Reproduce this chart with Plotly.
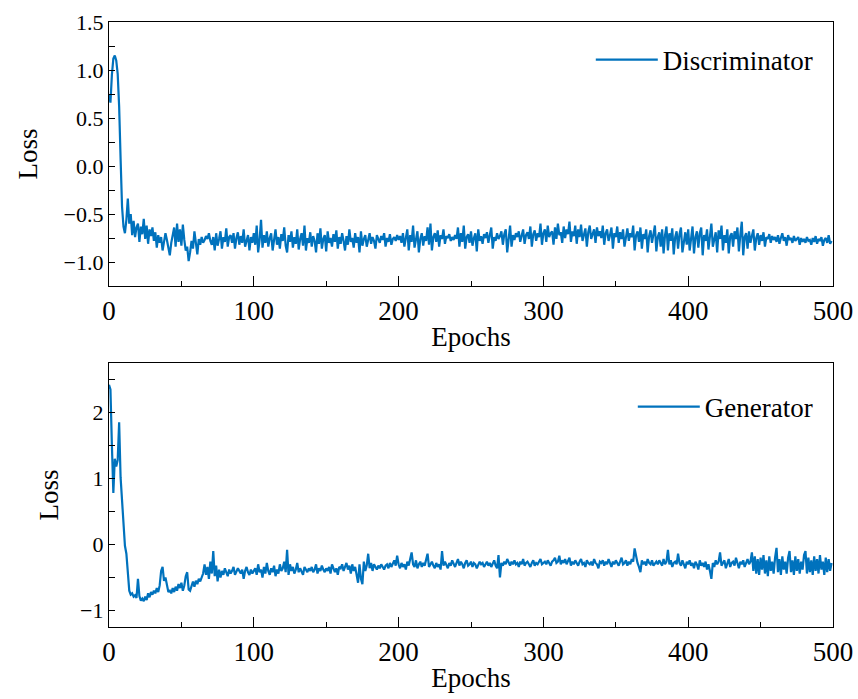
import plotly.graph_objects as go
from plotly.subplots import make_subplots

disc_loss = [
    0.74, 0.66, 0.95, 1.12, 1.15, 1.10, 0.96, 0.62, 0.08, -0.42, -0.63, -0.70, -0.56, -0.34, -0.60, -0.50, -0.72, -0.57, -0.74, -0.64,
    -0.60, -0.79, -0.63, -0.71, -0.55, -0.76, -0.62, -0.81, -0.66, -0.73, -0.64, -0.78, -0.69, -0.85, -0.72, -0.80, -0.74, -0.88, -0.79, -0.70,
    -0.77, -0.87, -0.93, -0.80, -0.72, -0.64, -0.84, -0.60, -0.79, -0.66, -0.83, -0.61, -0.77, -0.88, -0.84, -0.99, -0.90, -0.78, -0.86, -0.68,
    -0.80, -0.92, -0.76, -0.82, -0.74, -0.80, -0.77, -0.73, -0.76, -0.70, -0.78, -0.82, -0.74, -0.88, -0.70, -0.83, -0.76, -0.68, -0.86, -0.74,
    -0.79, -0.65, -0.84, -0.74, -0.72, -0.80, -0.70, -0.86, -0.75, -0.69, -0.82, -0.73, -0.80, -0.66, -0.84, -0.76, -0.72, -0.88, -0.74, -0.80,
    -0.70, -0.82, -0.62, -0.90, -0.77, -0.56, -0.85, -0.72, -0.80, -0.68, -0.84, -0.75, -0.70, -0.88, -0.76, -0.66, -0.82, -0.74, -0.86, -0.71,
    -0.78, -0.64, -0.83, -0.90, -0.72, -0.79, -0.68, -0.85, -0.74, -0.81, -0.66, -0.87, -0.76, -0.70, -0.83, -0.62, -0.88, -0.75, -0.80, -0.69,
    -0.84, -0.73, -0.78, -0.90, -0.70, -0.81, -0.65, -0.86, -0.76, -0.72, -0.89, -0.68, -0.80, -0.75, -0.84, -0.71, -0.79, -0.67, -0.86, -0.74,
    -0.81, -0.70, -0.78, -0.88, -0.73, -0.82, -0.66, -0.79, -0.75, -0.85, -0.70, -0.80, -0.74, -0.90, -0.68, -0.83, -0.76, -0.72, -0.84, -0.77,
    -0.70, -0.81, -0.74, -0.78, -0.86, -0.72, -0.76, -0.80, -0.73, -0.77, -0.70, -0.84, -0.75, -0.79, -0.71, -0.82, -0.76, -0.74, -0.78, -0.72,
    -0.77, -0.73, -0.80, -0.70, -0.84, -0.75, -0.66, -0.88, -0.72, -0.79, -0.62, -0.85, -0.74, -0.68, -0.90, -0.76, -0.70, -0.83, -0.73, -0.78,
    -0.64, -0.82, -0.60, -0.88, -0.74, -0.70, -0.79, -0.67, -0.84, -0.72, -0.76, -0.66, -0.81, -0.73, -0.75, -0.71, -0.78, -0.74, -0.77, -0.72,
    -0.76, -0.64, -0.84, -0.70, -0.79, -0.62, -0.86, -0.74, -0.71, -0.80, -0.68, -0.83, -0.75, -0.70, -0.89, -0.66, -0.78, -0.73, -0.81, -0.71,
    -0.75, -0.69, -0.80, -0.72, -0.64, -0.86, -0.74, -0.78, -0.70, -0.76, -0.73, -0.68, -0.82, -0.71, -0.66, -0.90, -0.75, -0.62, -0.84, -0.72,
    -0.77, -0.70, -0.74, -0.68, -0.79, -0.73, -0.66, -0.81, -0.72, -0.69, -0.76, -0.63, -0.84, -0.71, -0.67, -0.78, -0.70, -0.74, -0.60, -0.82,
    -0.70, -0.66, -0.79, -0.62, -0.74, -0.70, -0.68, -0.82, -0.64, -0.76, -0.60, -0.72, -0.69, -0.80, -0.63, -0.75, -0.66, -0.71, -0.58, -0.79,
    -0.68, -0.73, -0.62, -0.81, -0.66, -0.74, -0.61, -0.78, -0.70, -0.65, -0.84, -0.69, -0.62, -0.76, -0.71, -0.66, -0.80, -0.64, -0.73, -0.68,
    -0.75, -0.62, -0.82, -0.70, -0.66, -0.78, -0.72, -0.64, -0.86, -0.70, -0.74, -0.63, -0.80, -0.69, -0.76, -0.66, -0.84, -0.72, -0.65, -0.78,
    -0.70, -0.74, -0.62, -0.88, -0.72, -0.68, -0.79, -0.64, -0.86, -0.71, -0.76, -0.66, -0.90, -0.73, -0.67, -0.80, -0.70, -0.62, -0.89, -0.74,
    -0.69, -0.84, -0.66, -0.91, -0.72, -0.63, -0.88, -0.70, -0.78, -0.65, -0.92, -0.74, -0.68, -0.86, -0.71, -0.64, -0.90, -0.76, -0.69, -0.82,
    -0.66, -0.88, -0.72, -0.63, -0.91, -0.74, -0.68, -0.85, -0.70, -0.64, -0.93, -0.72, -0.78, -0.66, -0.87, -0.71, -0.60, -0.84, -0.74, -0.69,
    -0.90, -0.67, -0.76, -0.62, -0.88, -0.72, -0.80, -0.66, -0.91, -0.73, -0.70, -0.84, -0.68, -0.76, -0.64, -0.89, -0.72, -0.58, -0.93, -0.74,
    -0.70, -0.86, -0.68, -0.80, -0.73, -0.66, -0.88, -0.75, -0.70, -0.82, -0.72, -0.78, -0.69, -0.84, -0.74, -0.76, -0.71, -0.80, -0.73, -0.77,
    -0.74, -0.79, -0.72, -0.81, -0.75, -0.70, -0.78, -0.74, -0.83, -0.72, -0.77, -0.75, -0.80, -0.73, -0.78, -0.76, -0.74, -0.82, -0.75, -0.79,
    -0.76, -0.80, -0.74, -0.78, -0.77, -0.82, -0.75, -0.79, -0.73, -0.81, -0.76, -0.78, -0.74, -0.83, -0.77, -0.75, -0.80, -0.72, -0.81, -0.78,
]

gen_loss = [
    2.42, 2.35, 1.50, 0.78, 1.30, 1.18, 1.28, 1.85, 1.02, 0.70, 0.35, -0.02, -0.14, -0.40, -0.70, -0.76, -0.74, -0.79, -0.77, -0.81,
    -0.52, -0.78, -0.85, -0.82, -0.86, -0.79, -0.84, -0.74, -0.80, -0.72, -0.76, -0.70, -0.74, -0.66, -0.72, -0.62, -0.40, -0.34, -0.55, -0.50,
    -0.62, -0.72, -0.70, -0.74, -0.66, -0.72, -0.64, -0.70, -0.60, -0.66, -0.58, -0.70, -0.62, -0.48, -0.42, -0.68, -0.70, -0.62, -0.56, -0.64,
    -0.55, -0.60, -0.52, -0.56, -0.50, -0.44, -0.30, -0.46, -0.34, -0.52, -0.26, -0.44, -0.10, -0.48, -0.32, -0.56, -0.38, -0.50, -0.40, -0.46,
    -0.36, -0.42, -0.48, -0.38, -0.44, -0.40, -0.34, -0.46, -0.42, -0.36, -0.40, -0.44, -0.38, -0.52, -0.40, -0.34, -0.42, -0.46, -0.38, -0.44,
    -0.40, -0.36, -0.46, -0.30, -0.42, -0.38, -0.50, -0.34, -0.44, -0.28, -0.40, -0.46, -0.36, -0.42, -0.32, -0.48, -0.38, -0.44, -0.30, -0.40,
    -0.36, -0.26, -0.42, -0.08, -0.46, -0.30, -0.40, -0.34, -0.44, -0.38, -0.28, -0.42, -0.36, -0.40, -0.46, -0.34, -0.38, -0.42, -0.36, -0.40,
    -0.34, -0.42, -0.38, -0.30, -0.44, -0.36, -0.40, -0.32, -0.38, -0.42, -0.36, -0.40, -0.34, -0.44, -0.30, -0.38, -0.42, -0.36, -0.46, -0.34,
    -0.36, -0.30, -0.40, -0.34, -0.28, -0.38, -0.32, -0.44, -0.30, -0.40, -0.34, -0.46, -0.58, -0.30, -0.52, -0.60, -0.26, -0.40, -0.32, -0.14,
    -0.36, -0.28, -0.40, -0.30, -0.34, -0.38, -0.32, -0.36, -0.30, -0.34, -0.38, -0.32, -0.30, -0.36, -0.28, -0.34, -0.30, -0.24, -0.32, -0.17,
    -0.30, -0.36, -0.28, -0.34, -0.30, -0.38, -0.26, -0.32, -0.22, -0.12, -0.30, -0.34, -0.24, -0.36, -0.30, -0.26, -0.34, -0.28, -0.32, -0.22,
    -0.14, -0.34, -0.30, -0.26, -0.32, -0.36, -0.28, -0.34, -0.30, -0.38, -0.10, -0.32, -0.26, -0.30, -0.36, -0.28, -0.32, -0.24, -0.30, -0.34,
    -0.28, -0.22, -0.32, -0.26, -0.30, -0.36, -0.28, -0.24, -0.32, -0.30, -0.26, -0.34, -0.28, -0.30, -0.36, -0.32, -0.26, -0.30, -0.28, -0.34,
    -0.30, -0.26, -0.32, -0.28, -0.34, -0.30, -0.24, -0.32, -0.36, -0.16, -0.50, -0.28, -0.32, -0.26, -0.30, -0.22, -0.28, -0.32, -0.26, -0.30,
    -0.24, -0.30, -0.28, -0.34, -0.26, -0.30, -0.22, -0.32, -0.28, -0.26, -0.30, -0.34, -0.28, -0.24, -0.32, -0.28, -0.30, -0.26, -0.22, -0.30,
    -0.28, -0.26, -0.30, -0.24, -0.28, -0.32, -0.26, -0.24, -0.20, -0.28, -0.26, -0.17, -0.30, -0.24, -0.28, -0.22, -0.30, -0.26, -0.20, -0.32,
    -0.26, -0.30, -0.24, -0.28, -0.32, -0.26, -0.22, -0.30, -0.28, -0.34, -0.24, -0.28, -0.30, -0.26, -0.32, -0.22, -0.28, -0.30, -0.36, -0.26,
    -0.28, -0.24, -0.32, -0.26, -0.30, -0.22, -0.28, -0.34, -0.26, -0.30, -0.24, -0.28, -0.32, -0.26, -0.20, -0.30, -0.28, -0.24, -0.32, -0.26,
    -0.30, -0.22, -0.26, -0.06, -0.20, -0.28, -0.34, -0.42, -0.24, -0.30, -0.26, -0.32, -0.22, -0.28, -0.30, -0.24, -0.32, -0.28, -0.26, -0.30,
    -0.24, -0.28, -0.32, -0.22, -0.30, -0.26, -0.08, -0.30, -0.24, -0.34, -0.28, -0.26, -0.30, -0.14, -0.28, -0.32, -0.24, -0.30, -0.36, -0.26,
    -0.30, -0.24, -0.32, -0.28, -0.36, -0.26, -0.30, -0.38, -0.24, -0.32, -0.28, -0.34, -0.26, -0.38, -0.30, -0.40, -0.52, -0.28, -0.34, -0.24,
    -0.30, -0.26, -0.12, -0.32, -0.28, -0.24, -0.36, -0.30, -0.22, -0.34, -0.28, -0.26, -0.32, -0.20, -0.30, -0.36, -0.26, -0.30, -0.24, -0.34,
    -0.28, -0.22, -0.30, -0.26, -0.12, -0.40, -0.18, -0.44, -0.22, -0.46, -0.20, -0.38, -0.16, -0.44, -0.24, -0.48, -0.18, -0.40, -0.26, -0.44,
    -0.20, -0.05, -0.42, -0.22, -0.46, -0.18, -0.38, -0.26, -0.44, -0.20, -0.10, -0.42, -0.24, -0.46, -0.18, -0.40, -0.22, -0.44, -0.26, -0.38,
    -0.16, -0.10, -0.44, -0.20, -0.42, -0.24, -0.46, -0.18, -0.40, -0.22, -0.44, -0.16, -0.38, -0.26, -0.46, -0.20, -0.42, -0.22, -0.40, -0.28,
]

epochs_d = list(range(len(disc_loss)))
epochs_g = list(range(len(gen_loss)))

FONT = "Liberation Serif"
COLOR = "#0072BD"

fig = make_subplots(rows=2, cols=1)
fig.add_trace(go.Scatter(x=epochs_d, y=disc_loss, mode="lines", name="Discriminator",
                         line=dict(color=COLOR, width=2.2), legend="legend"), row=1, col=1)
fig.add_trace(go.Scatter(x=epochs_g, y=gen_loss, mode="lines", name="Generator",
                         line=dict(color=COLOR, width=2.2), legend="legend2"), row=2, col=1)

xcommon = dict(range=[0, 500], dtick=100, tick0=0, ticks="inside", ticklen=10, tickwidth=1,
               tickcolor="black", showline=True, linecolor="black", linewidth=1.2, mirror=True,
               showgrid=False, zeroline=False, automargin=False,
               minor=dict(dtick=50, ticks="inside", ticklen=5, tickcolor="black", showgrid=False),
               tickfont=dict(family=FONT, size=27, color="black"),
               title=dict(text="Epochs", font=dict(family=FONT, size=27, color="black"), standoff=2))
ycommon = dict(ticks="inside", ticklen=6, tickwidth=1, tickcolor="black", showline=True,
               linecolor="black", linewidth=1.2, mirror=True, showgrid=False, zeroline=False,
               automargin=False,
               tickfont=dict(family=FONT, size=22, color="black"))

fig.update_xaxes(**xcommon)
fig.update_yaxes(**ycommon)
fig.update_yaxes(domain=[0.5636, 1], range=[-1.25, 1.5], dtick=0.5, tick0=0, tickformat=".1f",
                 minor=dict(dtick=0.25, ticks="inside", ticklen=6, tickcolor="black", showgrid=False),
                 title=dict(text="Loss", font=dict(family=FONT, size=27, color="black"), standoff=18),
                 row=1, col=1)
fig.update_yaxes(domain=[0, 0.4364], range=[-1.25, 2.75], dtick=1, tick0=0,
                 minor=dict(dtick=0.5, ticks="inside", ticklen=6, tickcolor="black", showgrid=False),
                 title=dict(text="Loss", font=dict(family=FONT, size=27, color="black"), standoff=13),
                 row=2, col=1)

legend_common = dict(font=dict(family=FONT, size=27, color="black"), bgcolor="rgba(0,0,0,0)",
                     borderwidth=0, itemwidth=62, xanchor="right", yanchor="middle")
fig.update_layout(
    template="none",
    width=858, height=699,
    margin=dict(l=109, r=25, t=22, b=72),
    paper_bgcolor="white", plot_bgcolor="white",
    showlegend=True,
    legend=dict(x=0.979, y=0.937, **legend_common),
    legend2=dict(x=0.979, y=0.3636, **legend_common),
)

fig.write_html("out.html")
